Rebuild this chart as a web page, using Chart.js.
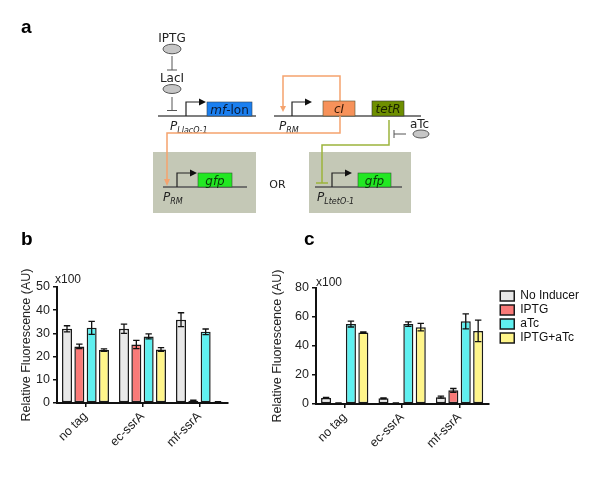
<!DOCTYPE html>
<html><head><meta charset="utf-8">
<script src="https://cdn.jsdelivr.net/npm/chart.js@4.4.1/dist/chart.umd.min.js"></script>
<style>
body{margin:0;width:600px;height:480px;background:#fff;position:relative;overflow:hidden;font-family:"Liberation Sans",Arial,sans-serif}
#wb{position:absolute;left:0;top:225px;width:290px;height:255px}
#wc{position:absolute;left:270px;top:225px;width:330px;height:255px}
svg{position:absolute;left:0;top:0;pointer-events:none}
</style></head>
<body>
<div id="wb"><canvas id="cb"></canvas></div>
<div id="wc"><canvas id="cc"></canvas></div>
<svg width="600" height="480" viewBox="0 0 600 480" xmlns="http://www.w3.org/2000/svg">
  <g font-family="Liberation Sans, Arial, sans-serif" font-weight="bold" font-size="19" fill="#000">
    <text x="21" y="33">a</text>
    <text x="21" y="245">b</text>
    <text x="304" y="245">c</text>
  </g>
  <g font-family="Liberation Sans, Arial, sans-serif" font-size="12" fill="#222">
    <text x="55" y="282.5">x100</text>
    <text x="316" y="286">x100</text>
  </g>
  <!-- diagram -->
  <g font-family="DejaVu Sans, sans-serif" fill="#222">
    <rect x="153" y="152" width="103" height="61" fill="#c4c8b6"/>
    <rect x="309" y="152" width="102" height="61" fill="#c4c8b6"/>
    <text x="172" y="41.5" font-size="12" text-anchor="middle">IPTG</text>
    <ellipse cx="172" cy="49" rx="9" ry="4.8" fill="#c6c6c6" stroke="#555" stroke-width="1"/>
    <path d="M172 56V70M167 70H177" stroke="#555" stroke-width="1" fill="none"/>
    <text x="172" y="81.5" font-size="12" text-anchor="middle">LacI</text>
    <ellipse cx="172" cy="89" rx="9" ry="4.5" fill="#c6c6c6" stroke="#555" stroke-width="1"/>
    <path d="M172 97V110.5M167 110.5H177" stroke="#555" stroke-width="1" fill="none"/>
    <!-- operon 1 -->
    <path d="M158 116H256" stroke="#555" stroke-width="1.5"/>
    <path d="M186 116V102H200" stroke="#222" stroke-width="1.2" fill="none"/>
    <path d="M199 98.5L206 102L199 105.5Z" fill="#111"/>
    <rect x="207" y="102" width="45" height="14" fill="#1a7ff0" stroke="#345" stroke-width="0.6"/>
    <text x="229.5" y="113.5" font-size="12" text-anchor="middle" fill="#0c1a33"><tspan font-style="italic">mf</tspan>-lon</text>
    <text x="170" y="130" font-size="12" font-style="italic">P<tspan font-size="8" dy="3">LlacO-1</tspan></text>
    <!-- operon 2 -->
    <path d="M274 116H421" stroke="#555" stroke-width="1.5"/>
    <path d="M340 101V76H283V107" stroke="#f5a36e" stroke-width="1.5" fill="none"/>
    <path d="M280 106L283 112L286 106Z" fill="#f5a36e"/>
    <path d="M292 116V102H306" stroke="#222" stroke-width="1.2" fill="none"/>
    <path d="M305 98.5L312 102L305 105.5Z" fill="#111"/>
    <rect x="323" y="101" width="32" height="15" fill="#f7925a" stroke="#553" stroke-width="0.6"/>
    <text x="339" y="113" font-size="12" font-style="italic" text-anchor="middle" fill="#3a1a08">cI</text>
    <rect x="372" y="101" width="32" height="15" fill="#6e8f00" stroke="#333" stroke-width="0.6"/>
    <text x="388" y="113" font-size="12" font-style="italic" text-anchor="middle" fill="#1a2200">tetR</text>
    <text x="279" y="130" font-size="12" font-style="italic">P<tspan font-size="8" dy="3">RM</tspan></text>
    <path d="M340 116V133H167V180" stroke="#f5a36e" stroke-width="1.5" fill="none"/>
    <path d="M164 179L167 186L170 179Z" fill="#f5a36e"/>
    <path d="M389 120V145H322V183M316 183H328" stroke="#9cb43c" stroke-width="1.5" fill="none"/>
    <text x="419.5" y="128" font-size="12" text-anchor="middle">aTc</text>
    <ellipse cx="421" cy="134" rx="8" ry="4" fill="#c6c6c6" stroke="#555" stroke-width="1"/>
    <path d="M406 134H394M394 130V138" stroke="#555" stroke-width="1" fill="none"/>
    <!-- reporters -->
    <path d="M163 187H247" stroke="#555" stroke-width="1.5"/>
    <path d="M177 187V173H191" stroke="#222" stroke-width="1.2" fill="none"/>
    <path d="M190 169.5L197 173L190 176.5Z" fill="#111"/>
    <rect x="198" y="173" width="34" height="14" fill="#22e822" stroke="#353" stroke-width="0.6"/>
    <text x="215" y="184.5" font-size="12" font-style="italic" text-anchor="middle" fill="#0a3a0a">gfp</text>
    <text x="163" y="201" font-size="12" font-style="italic">P<tspan font-size="8" dy="3">RM</tspan></text>
    <text x="277.5" y="188" font-size="11" text-anchor="middle">OR</text>
    <path d="M315 187H402" stroke="#555" stroke-width="1.5"/>
    <path d="M332 187V173H346" stroke="#222" stroke-width="1.2" fill="none"/>
    <path d="M345 169.5L352 173L345 176.5Z" fill="#111"/>
    <rect x="358" y="173" width="33" height="14" fill="#22e822" stroke="#353" stroke-width="0.6"/>
    <text x="374.5" y="184.5" font-size="12" font-style="italic" text-anchor="middle" fill="#0a3a0a">gfp</text>
    <text x="317" y="201" font-size="12" font-style="italic">P<tspan font-size="8" dy="3">LtetO-1</tspan></text>
  </g>
</svg>
<script>
const categories = ['no tag', 'ec-ssrA', 'mf-ssrA'];
const seriesNames = ['No Inducer', 'IPTG', 'aTc', 'IPTG+aTc'];
const seriesColors = ['#e8e8e8', '#f97a78', '#5ff0f0', '#fff58a'];

// panel b (x100 AU)
const bNoInducer = [32.0, 32.0, 35.9];
const bIPTG      = [24.4, 25.2, 1.0];
const baTc       = [32.4, 28.7, 30.7];
const bIPTGaTc   = [22.8, 23.1, 0.5];
const bNoInducerErr = [1.3, 2.0, 3.0];
const bIPTGErr      = [1.0, 1.8, 0.2];
const baTcErr       = [2.8, 1.1, 1.2];
const bIPTGaTcErr   = [0.5, 0.8, 0.1];
const bTicks = [0, 10, 20, 30, 40, 50];

// panel c (x100 AU)
const cNoInducer = [4.2, 3.9, 4.7];
const cIPTG      = [0.6, 0.6, 9.4];
const caTc       = [55.1, 55.1, 57.0];
const cIPTGaTc   = [49.3, 53.0, 50.4];
const cNoInducerErr = [0.3, 0.3, 0.7];
const cIPTGErr      = [0.1, 0.1, 1.3];
const caTcErr       = [2.0, 1.6, 5.2];
const cIPTGaTcErr   = [0.5, 2.6, 7.4];
const cTicks = [0, 20, 40, 60, 80];

const FONT = 'Liberation Sans, Arial, sans-serif';

const errorBarPlugin = {
  id: 'errbars',
  afterDatasetsDraw(chart) {
    const ctx = chart.ctx, y = chart.scales.y;
    chart.data.datasets.forEach((ds, i) => {
      const meta = chart.getDatasetMeta(i);
      meta.data.forEach((bar, j) => {
        const e = ds.errors[j], v = ds.data[j];
        if (!e) return;
        const yt = y.getPixelForValue(v + e), yb = y.getPixelForValue(v - e);
        const half = bar.width * 0.32;
        ctx.save();
        ctx.strokeStyle = '#111'; ctx.lineWidth = 1.3;
        ctx.beginPath();
        ctx.moveTo(bar.x, yt); ctx.lineTo(bar.x, yb);
        ctx.moveTo(bar.x - half, yt); ctx.lineTo(bar.x + half, yt);
        ctx.moveTo(bar.x - half, yb); ctx.lineTo(bar.x + half, yb);
        ctx.stroke();
        ctx.restore();
      });
    });
  }
};

const legendShift = {
  id: 'legendShift',
  afterLayout(chart) {
    if (chart.legend && chart.options.plugins.legend.display) {
      chart.legend.left += 10;
      chart.legend.right = chart.width;
      chart.legend.width = chart.legend.right - chart.legend.left;
    }
  }
};

function makeDatasets(vals, errs) {
  return vals.map((v, i) => ({
    label: seriesNames[i],
    data: v,
    errors: errs[i],
    backgroundColor: seriesColors[i],
    borderColor: '#1a1a1a',
    borderWidth: 1.5,
    borderSkipped: false,
    categoryPercentage: 0.865,
    barPercentage: 0.81
  }));
}

function makeChart(id, vals, errs, ticks, opt) {
  return new Chart(document.getElementById(id), {
    type: 'bar',
    data: { labels: categories, datasets: makeDatasets(vals, errs) },
    plugins: [errorBarPlugin, legendShift],
    options: {
      responsive: true,
      maintainAspectRatio: false,
      animation: false,
      layout: { padding: opt.padding },
      plugins: {
        tooltip: { enabled: false },
        legend: {
          display: opt.legend,
          position: 'right',
          align: 'start',
          labels: {
            boxWidth: 14, boxHeight: 10, padding: 2,
            color: '#111',
            font: { family: FONT, size: 12 }
          }
        }
      },
      scales: {
        x: {
          offset: true,
          grid: { display: true, offset: false, drawOnChartArea: false, drawTicks: true, tickLength: 4, color: '#111', lineWidth: 1.5 },
          border: { display: true, color: '#111', width: 2 },
          ticks: { minRotation: 45, maxRotation: 45, padding: 2, color: '#222', font: { family: FONT, size: 12.5 } },
          afterFit: s => { s.height = opt.xh; }
        },
        y: {
          min: ticks[0], max: ticks[ticks.length - 1],
          afterBuildTicks: s => { s.ticks = ticks.map(v => ({ value: v })); },
          grid: { display: true, drawOnChartArea: false, drawTicks: true, tickLength: 4, color: '#111', lineWidth: 1.5 },
          border: { display: true, color: '#111', width: 2 },
          ticks: { padding: 3, color: '#222', font: { family: FONT, size: 12.5 } },
          title: { display: true, text: 'Relative Fluorescence (AU)', color: '#222', padding: { top: opt.tpad, bottom: 0 }, font: { family: FONT, size: 12.5 } },
          afterFit: s => { s.width = opt.yw; }
        }
      }
    }
  });
}

makeChart('cb',
  [bNoInducer, bIPTG, baTc, bIPTGaTc],
  [bNoInducerErr, bIPTGErr, baTcErr, bIPTGaTcErr],
  bTicks,
  { padding: { left: 10, top: 62, right: 62, bottom: 0 }, yw: 47, xh: 77, tpad: 9.5, legend: false });

makeChart('cc',
  [cNoInducer, cIPTG, caTc, cIPTGaTc],
  [cNoInducerErr, cIPTGErr, caTcErr, cIPTGaTcErr],
  cTicks,
  { padding: { left: 0, top: 63, right: 39, bottom: 0 }, yw: 46, xh: 76, tpad: 0, legend: true });
</script>
</body></html>
